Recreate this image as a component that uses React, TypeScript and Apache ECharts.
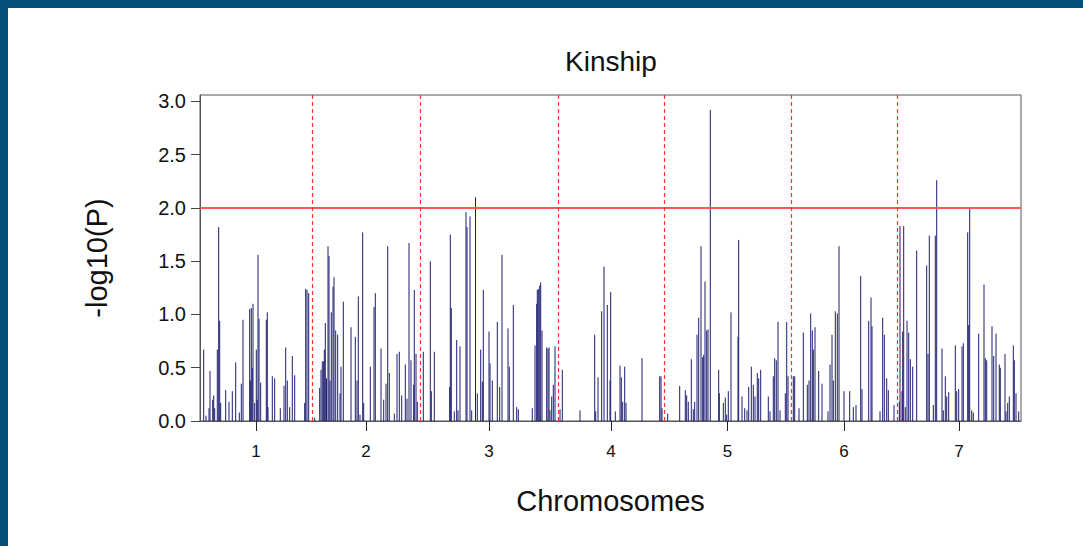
import React, { useEffect, useRef } from "react";
import * as echarts from "echarts";

const chromosomes = ["1", "2", "3", "4", "5", "6", "7"];
const chromLengths = [112, 108, 138, 106, 127, 106, 124];
const yTicks = [0, 0.5, 1, 1.5, 2, 2.5, 3];
const threshold = 2.0;
const yMax = 3.06;

const chr1: [number, number][] = [
  [3.7, 0.67], [6, 0.05], [9, 0.12], [10, 0.47], [12.7, 0.2], [13.7, 0.24], [14.7, 0.12], [17.3, 0.67],
  [18.7, 1.82], [19.7, 0.94], [20.7, 0.17], [25.7, 0.29], [29, 0.18], [32.3, 0.28], [35.7, 0.55],
  [39.3, 0.08], [41.3, 0.35], [43, 0.95], [49.7, 1.05], [50.3, 0.38], [51.3, 1.06], [52.2, 0.5], [53, 1.1],
  [54.7, 0.17], [56.3, 0.67], [57.2, 0.2], [58, 1.56], [59, 0.96], [60.7, 0.36], [66.3, 0.95], [67.3, 1.02],
  [68, 0.13], [72.3, 0.42], [74.7, 0.4], [80.3, 0.12], [84, 0.33], [85.7, 0.69], [87.3, 0.38], [89.7, 0.13],
  [92.3, 0.61], [94.7, 0.43], [104.7, 0.17], [105.7, 1.24], [107, 1.23], [108.7, 1.2],
];
const chr2: [number, number][] = [
  [2.7, 0.03], [7.7, 0.31], [9, 0.48], [10.3, 0.56], [11.7, 0.56], [12.3, 0.67], [13.3, 0.92], [14.5, 0.4],
  [16, 1.64], [17, 1.55], [18, 0.38], [19.3, 1.02], [21, 1.26], [22, 1.35], [23.7, 0.85], [25.7, 0.81],
  [28, 0.26], [29, 0.51], [31.3, 1.12], [39, 0.88], [43.3, 0.79], [45, 0.38], [46.3, 1.17], [48, 0.06],
  [50.7, 1.77], [51.7, 0.17], [58.3, 0.51], [62, 1.07], [63.3, 1.2], [69, 0.68], [71.7, 0.2], [74, 0.35],
  [75.7, 1.64], [77.3, 0.45], [82.3, 0.07], [85, 0.63], [87.3, 0.65], [89.7, 0.24], [93.3, 0.53], [95, 0.21],
  [97, 1.67], [99, 0.57], [101.7, 0.34], [102.3, 1.23], [104, 0.63], [105.3, 0.18],
];
const chr3: [number, number][] = [
  [3.3, 0.65], [10.3, 1.5], [11.3, 0.28], [14.3, 0.65], [29.7, 0.32], [30.3, 1.75], [31.3, 1.06],
  [34.3, 0.09], [36.7, 0.76], [38, 0.1], [40, 0.7], [46, 1.96], [47, 1.82], [50, 1.92], [51.7, 0.1],
  [55.5, 2.1], [57.3, 0.26], [60.7, 0.67], [62.3, 0.37], [63.3, 1.23], [69, 0.84], [70, 0.54], [72.3, 0.38],
  [77.3, 0.93], [79.7, 0.32], [82, 1.56], [88, 0.87], [89.3, 0.51], [93.3, 1.09], [96.7, 0.13], [98.3, 0.11],
  [112.3, 0.12], [115, 0.71], [116.7, 1.1], [117.3, 1.23], [118.3, 1.24], [119.7, 1.27], [120.7, 1.3],
  [122, 0.85], [126.7, 0.69], [128, 0.68], [129, 0.69], [130, 0.1], [131.7, 0.23], [133.3, 0.34], [135, 0.7],
];
const chr4: [number, number][] = [
  [2, 0.11], [4.3, 0.48], [22, 0.1], [36.7, 0.81], [37.7, 0.09], [40, 0.41], [43.7, 1.03], [46, 1.45],
  [49.3, 1.09], [52, 0.38], [52.7, 1.21], [57.3, 0.09], [62, 0.52], [63.3, 0.41], [64.7, 0.18], [66.7, 0.51],
  [68, 0.17], [84, 0.59], [101.7, 0.42], [103, 0.42], [104, 0.12],
];
const chr5: [number, number][] = [
  [3.7, 0.07], [15.7, 0.33], [21.3, 0.29], [22.7, 0.24], [24.3, 0.18], [27.3, 0.58], [29.3, 0.11],
  [30.7, 0.18], [33, 0.81], [34.7, 0.97], [37, 1.64], [38.7, 0.6], [39.7, 0.62], [41, 1.31], [42.7, 0.85],
  [44, 0.86], [46.3, 2.92], [54.7, 0.48], [55.3, 0.26], [59.3, 0.17], [61.3, 0.22], [62.7, 0.06], [64.3, 0.28],
  [67, 1.02], [74, 0.79], [74.7, 1.7], [78, 0.23], [80.7, 0.12], [83, 0.1], [84.7, 0.32], [87.3, 0.51],
  [89.3, 0.34], [91, 0.23], [93.3, 0.45], [94.7, 0.4], [96.7, 0.48], [104.3, 0.23], [106, 0.09], [109.3, 0.42],
  [110.7, 0.59], [112.3, 0.57], [114, 0.93], [116, 0.1], [121.3, 0.26], [122.7, 0.93], [124, 0.42],
];
const chr6: [number, number][] = [
  [2.3, 0.42], [3.7, 0.42], [8, 0.12], [12.3, 0.83], [16.3, 0.34], [18, 0.38], [19.7, 1.01], [21.3, 0.85],
  [22.3, 0.67], [24, 0.88], [27.7, 0.47], [31, 0.35], [37, 0.09], [39, 0.53], [41, 0.81], [42.3, 0.38],
  [44.3, 1.03], [46.3, 1.01], [48, 1.64], [53, 0.28], [58.7, 0.28], [62.3, 0.13], [65, 0.15], [69.7, 1.36],
  [71, 0.3], [77.7, 0.94], [80, 1.16], [81, 0.89], [89, 0.09], [91.7, 0.97], [93.3, 0.81], [95.7, 0.4],
  [97.3, 0.29], [103, 0.15],
];
const chr7: [number, number][] = [
  [2.3, 0.18], [3, 1.83], [5, 0.28], [5.7, 0.84], [6.7, 1.83], [8.3, 0.13], [10, 0.94], [11.7, 0.83],
  [13.3, 0.58], [15.7, 0.51], [19.7, 1.6], [29.7, 1.46], [31, 0.63], [32.3, 1.74], [36.3, 0.15], [38.3, 1.74],
  [39.7, 2.26], [45, 0.68], [46.3, 0.1], [48.3, 0.42], [49.7, 0.23], [51.7, 0.27], [58.3, 0.71], [59.7, 0.28],
  [61.7, 0.3], [65, 0.7], [66.3, 0.73], [70.7, 1.77], [71.7, 0.9], [72.7, 2.0], [74.7, 0.1], [76.3, 0.08],
  [81.7, 0.82], [87, 1.28], [88.3, 0.59], [89.7, 0.57], [95, 0.89], [96.7, 0.61], [99, 0.82], [102.3, 0.53],
  [103.3, 0.5], [108, 0.63], [109, 0.09], [110.7, 0.17], [112.3, 0.23], [116.3, 0.71], [117.3, 0.57],
  [119, 0.26], [121.7, 0.09],
];
const markersByChrom = [chr1, chr2, chr3, chr4, chr5, chr6, chr7];

export default function App() {
  const ref = useRef<HTMLDivElement>(null);

  useEffect(() => {
    if (!ref.current) return;
    const chart = echarts.init(ref.current, null, { renderer: "svg" });

    const starts: number[] = [];
    let acc = 0;
    chromLengths.forEach((l) => {
      starts.push(acc);
      acc += l;
    });
    const total = acc;
    const boundaries = starts.slice(1);
    const centers = chromLengths.map((l, i) => starts[i] + l / 2);

    const data: [number, number][] = [];
    markersByChrom.forEach((arr, i) => {
      arr.forEach(([p, v]) => data.push([starts[i] + p, v]));
    });

    const font = "'Liberation Sans', Arial, Helvetica, sans-serif";

    chart.setOption({
      animation: false,
      backgroundColor: "transparent",
      title: {
        text: "Kinship",
        left: 606,
        top: 42,
        textAlign: "center",
        textStyle: { fontFamily: font, fontSize: 28, fontWeight: "normal", color: "#111" },
      },
      grid: {
        left: 200,
        right: 62,
        top: 95,
        bottom: 125,
        show: true,
        borderColor: "#555",
        borderWidth: 1,
        backgroundColor: "transparent",
      },
      xAxis: {
        type: "value",
        min: 0,
        max: total,
        name: "Chromosomes",
        nameLocation: "middle",
        nameGap: 65,
        nameTextStyle: { fontFamily: font, fontSize: 29, color: "#111" },
        axisLine: { show: true, lineStyle: { color: "#555", width: 1 } },
        axisTick: {
          show: true,
          length: 10,
          customValues: centers,
          lineStyle: { color: "#222", width: 1 },
        },
        axisLabel: { show: false },
        splitLine: { show: false },
      },
      yAxis: {
        type: "value",
        min: 0,
        max: yMax,
        name: "-log10(P)",
        nameLocation: "middle",
        nameRotate: 90,
        nameGap: 89,
        nameTextStyle: { fontFamily: font, fontSize: 29, color: "#111" },
        axisLine: { show: true, lineStyle: { color: "#555", width: 1 } },
        axisTick: {
          show: true,
          length: 9,
          customValues: yTicks,
          lineStyle: { color: "#444", width: 1 },
        },
        axisLabel: { show: false },
        splitLine: { show: false },
      },
      series: [
        {
          type: "custom",
          data,
          encode: { x: 0, y: 1 },
          silent: true,
          renderItem: (params: any, api: any) => {
            const x = api.value(0);
            const y = api.value(1);
            const p0 = api.coord([x, 0]);
            const p1 = api.coord([x, y]);
            return {
              type: "line",
              shape: { x1: p0[0], y1: p0[1], x2: p1[0], y2: p1[1] },
              style: { stroke: "#1d1d70", lineWidth: 1 },
            };
          },
          markLine: {
            silent: true,
            symbol: "none",
            label: { show: false },
            data: [
              { yAxis: threshold, lineStyle: { color: "#ff5555", width: 2, type: "solid" } },
              ...boundaries.map((b) => ({
                xAxis: b,
                lineStyle: { color: "#ff3030", width: 1.2, type: [4, 3] },
              })),
            ],
          },
        },
      ],
    });

    // Tick labels placed through the chart's own coordinate conversion
    const labels: any[] = [];
    yTicks.forEach((t) => {
      const p = chart.convertToPixel({ gridIndex: 0 }, [0, t]) as number[];
      labels.push({
        type: "text",
        x: p[0] - 14,
        y: p[1],
        silent: true,
        style: {
          text: t.toFixed(1),
          fontFamily: font,
          fontSize: 20,
          fill: "#111",
          align: "right",
          verticalAlign: "middle",
        },
      });
    });
    centers.forEach((c, i) => {
      const p = chart.convertToPixel({ gridIndex: 0 }, [c, 0]) as number[];
      labels.push({
        type: "text",
        x: p[0],
        y: p[1] + 22,
        silent: true,
        style: {
          text: chromosomes[i],
          fontFamily: font,
          fontSize: 17,
          fill: "#111",
          align: "center",
          verticalAlign: "top",
        },
      });
    });
    chart.setOption({ graphic: labels });

    return () => chart.dispose();
  }, []);

  return (
    <div style={{ position: "fixed", left: 0, top: 0, width: 1083, height: 546, background: "#fff" }}>
      <div ref={ref} style={{ position: "absolute", left: 0, top: 0, width: 1083, height: 546 }} />
      <div style={{ position: "absolute", left: 0, top: 0, width: 1083, height: 8, background: "#03507b" }} />
      <div style={{ position: "absolute", left: 0, top: 0, width: 8, height: 546, background: "#03507b" }} />
    </div>
  );
}
